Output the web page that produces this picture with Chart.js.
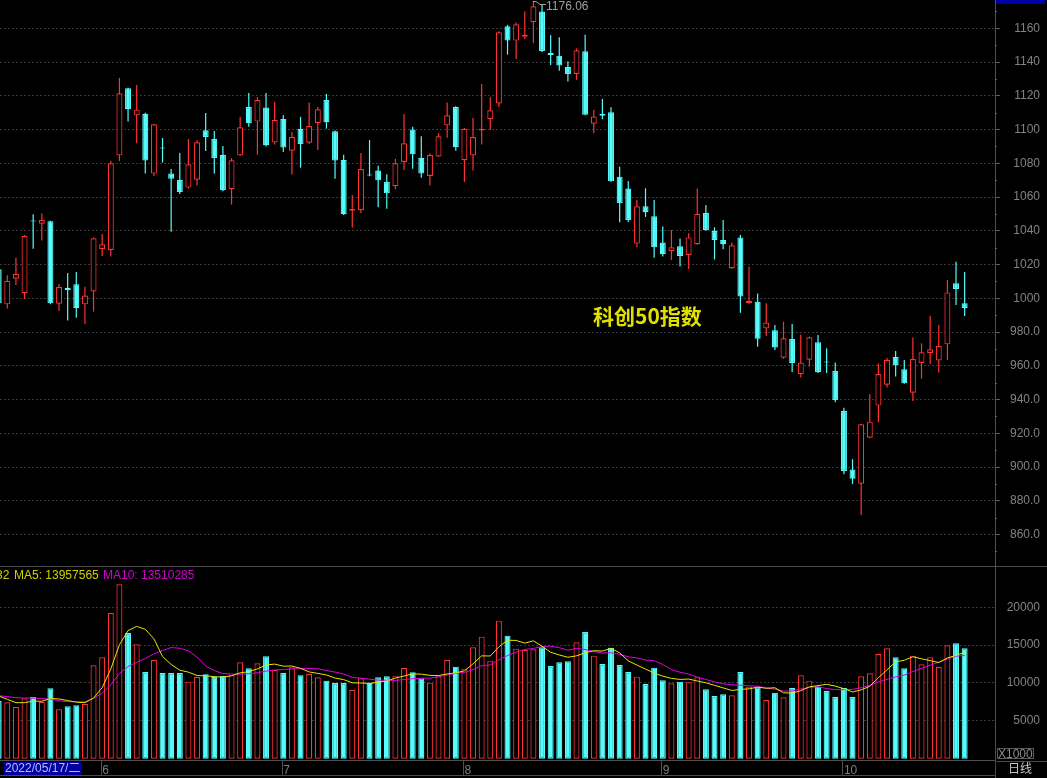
<!DOCTYPE html>
<html><head><meta charset="utf-8">
<script src="https://cdn.jsdelivr.net/npm/chart.js@4.4.0/dist/chart.umd.min.js"></script>
<style>
html,body{margin:0;padding:0;background:#000;}
body{width:1047px;height:778px;overflow:hidden;position:relative;font-family:"Liberation Sans",Arial,"Noto Sans CJK SC",sans-serif;}
canvas{position:absolute;left:0;display:block;}
#price{top:0;}
#vol{top:566px;}
.ln{position:absolute;background:#4a4a4a;}
.txt{position:absolute;white-space:nowrap;font-size:12px;line-height:12px;}
</style></head><body>
<canvas id="price" width="1047" height="566"></canvas>
<canvas id="vol" width="1047" height="212"></canvas>

<div class="ln" style="left:0;top:566px;width:1047px;height:1px;"></div>
<div class="ln" style="left:995px;top:760px;width:1px;height:18px;"></div>
<div class="ln" style="left:0;top:775px;width:995px;height:1px;"></div>
<div class="ln" style="left:995px;top:761px;width:52px;height:1px;"></div>
<div style="position:absolute;left:996px;top:0;width:49px;height:4px;background:#0000a8;"></div>

<div class="txt" id="legendVol" style="left:-4px;top:569px;color:#d0d000;">32</div>
<div class="txt" id="legendMa5" style="left:14px;top:569px;color:#d0d000;">MA5: 13957565</div>
<div class="txt" id="legendMa10" style="left:103px;top:569px;color:#d000d0;">MA10: 13510285</div>

<div class="txt" style="left:4px;top:762px;width:78px;height:13px;background:#0000a0;color:#b8b8ff;line-height:13px;padding-left:1px;box-sizing:border-box;">2022/05/17/二</div>
<div class="txt" style="left:997px;top:748px;width:37px;height:11px;border:1px solid #5a5a5a;box-sizing:border-box;color:#8a8a8a;line-height:10px;font-size:12px;">X1000</div>
<div class="txt" style="left:1008px;top:762px;color:#c4c4c4;font-family:'Noto Sans CJK SC',sans-serif;">日线</div>

<div class="txt" style="left:593px;top:305px;font-size:21px;line-height:21px;font-weight:bold;color:#e0e000;font-family:'Noto Sans CJK SC',sans-serif;">科创50指数</div>
<div class="txt" style="left:546px;top:0px;color:#a0a0a0;">1176.06</div>
<svg style="position:absolute;left:530px;top:0;" width="16" height="8"><polyline points="3,1.5 6,1.5 10,4.5 16,4.5" fill="none" stroke="#a0a0a0" stroke-width="1"/></svg>

<script>
// ---------------- data ----------------
const dates = [
 '2022-05-16','2022-05-17','2022-05-18','2022-05-19','2022-05-20','2022-05-23','2022-05-24','2022-05-25','2022-05-26','2022-05-27','2022-05-30','2022-05-31',
 '2022-06-01','2022-06-02','2022-06-06','2022-06-07','2022-06-08','2022-06-09','2022-06-10','2022-06-13','2022-06-14','2022-06-15','2022-06-16','2022-06-17','2022-06-20','2022-06-21','2022-06-22','2022-06-23','2022-06-24','2022-06-27','2022-06-28','2022-06-29','2022-06-30',
 '2022-07-01','2022-07-04','2022-07-05','2022-07-06','2022-07-07','2022-07-08','2022-07-11','2022-07-12','2022-07-13','2022-07-14','2022-07-15','2022-07-18','2022-07-19','2022-07-20','2022-07-21','2022-07-22','2022-07-25','2022-07-26','2022-07-27','2022-07-28','2022-07-29',
 '2022-08-01','2022-08-02','2022-08-03','2022-08-04','2022-08-05','2022-08-08','2022-08-09','2022-08-10','2022-08-11','2022-08-12','2022-08-15','2022-08-16','2022-08-17','2022-08-18','2022-08-19','2022-08-22','2022-08-23','2022-08-24','2022-08-25','2022-08-26','2022-08-29','2022-08-30','2022-08-31',
 '2022-09-01','2022-09-02','2022-09-05','2022-09-06','2022-09-07','2022-09-08','2022-09-09','2022-09-13','2022-09-14','2022-09-15','2022-09-16','2022-09-19','2022-09-20','2022-09-21','2022-09-22','2022-09-23','2022-09-26','2022-09-27','2022-09-28','2022-09-29','2022-09-30',
 '2022-10-10','2022-10-11','2022-10-12','2022-10-13','2022-10-14','2022-10-17','2022-10-18','2022-10-19','2022-10-20','2022-10-21','2022-10-24','2022-10-25','2022-10-26','2022-10-27','2022-10-28'
];
const open = [1017.2,996.4,1011.6,1003.0,1046.1,1044.2,1045.6,996.8,1006.3,1008.3,
 996.4,1004.0,1029.2,1028.6,1084.7,1124.4,1108.4,1109.4,1073.9,1089.4,
 1073.9,1070.1,1065.6,1070.3,1099.6,1094.4,1085.1,1064.6,1084.7,1113.4,
 1104.7,1113.0,1092.4,1106.3,1087.5,1100.5,1092.2,1103.9,1117.5,1099.0,
 1082.0,1051.9,1052.3,1073.4,1075.7,1068.9,1066.4,1080.8,1100.1,1083.2,
 1072.5,1084.0,1102.5,1113.4,1081.8,1084.7,1099.4,1106.1,1115.4,1161.2,
 1152.7,1155.0,1163.6,1169.9,1145.4,1143.8,1137.1,1132.9,1146.4,1103.5,
 1109.2,1110.2,1072.1,1065.0,1032.4,1054.5,1048.6,1033.0,1027.9,1030.8,
 1025.7,1032.0,1050.6,1039.9,1034.6,1017.8,1036.1,997.0,998.0,982.2,
 981.0,964.8,975.9,955.0,963.6,973.9,962.6,956.9,933.2,898.6,
 890.1,917.4,936.4,948.8,965.2,957.9,944.1,961.7,967.4,963.2,
 972.7,1008.9,997.0];
const high = [1018.5,1013.6,1024.1,1037.5,1049.8,1050.2,1046.0,1008.5,1015.0,1015.6,
 1006.9,1036.0,1038.1,1081.4,1130.6,1124.8,1126.4,1110.0,1103.5,1095.0,
 1076.6,1086.1,1094.4,1093.8,1109.8,1099.2,1090.3,1083.0,1107.5,1121.7,
 1119.3,1121.7,1116.5,1108.4,1098.6,1107.5,1116.1,1113.4,1121.1,1099.4,
 1085.1,1061.2,1086.1,1093.8,1078.6,1073.5,1082.6,1109.2,1101.7,1096.0,
 1085.9,1097.8,1116.0,1113.8,1101.0,1106.9,1127.0,1119.1,1158.2,1162.0,
 1163.4,1170.1,1176.06,1174.4,1155.9,1154.7,1140.4,1148.1,1156.2,1111.6,
 1118.1,1113.2,1078.0,1069.5,1058.3,1065.2,1058.3,1042.5,1040.5,1035.4,
 1038.5,1065.0,1055.3,1042.1,1046.4,1033.0,1037.5,1018.7,1002.9,997.0,
 984.2,986.1,984.8,978.6,977.2,978.3,970.4,962.0,935.2,904.6,
 925.6,943.1,961.4,964.8,968.8,963.4,976.7,973.3,989.7,984.2,
 1010.8,1021.7,1015.6];
const low = [995.0,993.9,1007.9,999.6,1029.4,1034.2,996.5,992.5,986.8,988.5,
 984.8,992.1,1025.1,1024.7,1081.4,1104.7,1091.9,1073.9,1072.5,1080.4,
 1039.5,1061.8,1065.0,1066.8,1087.3,1073.9,1063.5,1055.5,1084.3,1101.7,
 1085.1,1089.9,1091.1,1086.7,1073.3,1077.4,1091.5,1087.9,1100.5,1070.9,
 1049.4,1041.9,1050.4,1072.3,1053.9,1053.1,1064.6,1076.0,1076.8,1071.5,
 1066.8,1083.8,1095.2,1087.5,1068.9,1075.7,1091.1,1099.8,1113.4,1144.4,
 1141.8,1153.7,1151.3,1146.0,1138.3,1134.9,1128.4,1129.4,1108.4,1097.8,
 1106.1,1069.0,1045.0,1045.2,1030.2,1048.2,1024.1,1024.7,1022.7,1018.8,
 1017.3,1031.8,1040.0,1023.0,1029.0,1017.4,991.5,996.8,971.3,977.7,
 969.4,964.2,956.3,953.0,959.5,955.7,955.7,938.4,895.7,890.0,
 871.6,917.0,926.5,947.2,953.6,949.4,939.1,952.4,961.0,955.9,
 963.4,996.0,989.5];
const close = [997.0,1010.3,1014.4,1036.9,1045.5,1046.4,997.0,1006.7,1004.9,994.1,
 1001.6,1035.6,1032.0,1080.0,1121.5,1112.0,1111.8,1081.6,1103.1,1088.8,
 1070.9,1063.0,1079.4,1092.4,1095.6,1083.2,1064.0,1081.8,1101.3,1103.7,
 1117.5,1090.7,1105.7,1089.3,1095.6,1091.5,1102.1,1112.0,1104.3,1081.6,
 1049.8,1052.9,1076.6,1072.8,1069.9,1062.2,1080.0,1091.9,1085.3,1073.9,
 1084.9,1096.0,1108.4,1089.5,1100.5,1095.6,1100.5,1111.4,1157.6,1152.7,
 1162.4,1156.2,1173.0,1146.6,1144.2,1137.9,1132.9,1147.0,1108.8,1107.7,
 1108.2,1069.3,1056.5,1046.4,1054.5,1051.0,1030.2,1026.1,1030.2,1025.1,
 1036.1,1050.0,1040.5,1034.6,1032.0,1031.4,1001.0,998.4,976.1,985.6,
 970.9,976.3,961.7,961.9,976.9,956.3,962.0,939.7,897.7,893.1,
 925.3,926.9,955.1,963.4,960.5,949.6,964.0,968.0,969.8,971.7,
 1003.5,1005.5,994.3];
// volume, in thousands (axis shows X1000)
const volume = [7621,7444,6828,7973,8149,7532,9294,6519,6916,7048,
 7224,12334,13391,19250,23038,16607,15109,11453,13039,11321,
 11321,11321,10176,10792,11145,10792,10924,11101,12731,11938,
 12599,13523,11717,11321,12070,11013,11189,10748,10308,9999,
 9999,9074,10616,10043,10748,10880,10968,11982,11409,10616,
 10043,10880,13039,12158,11894,14713,16122,12951,18237,16254,
 14537,14361,14449,14713,12246,12731,12863,15373,16739,13612,
 12510,14669,12378,11453,10836,9867,12026,10352,9955,10176,
 10087,10748,9162,8281,8502,8370,11453,9515,9427,7753,
 8722,8105,9339,11013,10308,9515,8942,8149,9339,8149,
 10880,11277,13832,14581,13391,11938,13612,12466,13391,12114,
 14977,15241,14581];
// sessions before 2022-05-16 (off-screen, estimated from the MA lines), only used to start the averages
const prevVolume = [8764,8148,8413,8149,8369,9646,9033,7973,7134];
const maPeriods = [5, 10];
const priceTicks = [860,880,900,920,940,960,980,1000,1020,1040,1060,1080,1100,1120,1140,1160];
const priceMinorTicks = [850,870,890,910,930,950,970,990,1010,1030,1050,1070,1090,1110,1130,1150,1170];
const volTicks = [5000,10000,15000,20000];

// ---------------- derived ----------------
const RED = '#ff3232', CYAN = '#54fcfc';
const up = open.map((o, i) => close[i] >= o);
const idx = dates.map((d, i) => i);
const monthStarts = [], monthLabels = [];
dates.forEach((d, i) => {
  if (i > 0 && d.slice(5, 7) !== dates[i - 1].slice(5, 7)) {
    monthStarts.push(i); monthLabels.push(String(parseInt(d.slice(5, 7), 10)));
  }
});
const allVol = prevVolume.concat(volume);
function movingAvg(n) {
  return volume.map((_, i) => {
    const j = i + prevVolume.length;
    let s = 0;
    for (let k = j - n + 1; k <= j; k++) s += allVol[k];
    return {x: i, y: s / n};
  });
}

const X_MIN = 0.1536, X_MAX = 115.52;
Chart.defaults.font.family = '"Liberation Sans", Arial, sans-serif';
Chart.defaults.font.size = 12;

function fixAxisY(s) { s.width = 45; s.paddingTop = 0; s.paddingBottom = 0; }

// ---------------- price chart ----------------
const priceMinor = {
  id: 'priceMinor',
  afterDraw(chart) {
    const {ctx, chartArea} = chart; const y = chart.scales.y;
    ctx.save(); ctx.strokeStyle = '#606060'; ctx.lineWidth = 1;
    priceMinorTicks.forEach(v => {
      if (v < y.min || v > y.max) return;
      const py = Math.round(y.getPixelForValue(v)) + 0.5;
      ctx.beginPath(); ctx.moveTo(chartArea.right, py); ctx.lineTo(chartArea.right + 2, py); ctx.stroke();
    });
    ctx.restore();
  }
};

new Chart(document.getElementById('price'), {
  type: 'bar',
  data: {
    datasets: [
      {
        label: 'body',
        data: idx.map(i => ({x: i, y: [open[i], close[i]]})),
        backgroundColor: up.map(u => u ? '#000000' : CYAN),
        borderColor: up.map(u => u ? RED : CYAN),
        borderWidth: 1.2, borderSkipped: false, inflateAmount: 0,
        barPercentage: 1, categoryPercentage: 1, maxBarThickness: 6, barThickness: 6,
        minBarLength: 1, grouped: false, order: 0
      },
      {
        label: 'wick',
        data: idx.map(i => ({x: i, y: [low[i], high[i]]})),
        backgroundColor: up.map(u => u ? RED : CYAN),
        borderWidth: 0, inflateAmount: 0,
        barPercentage: 1, categoryPercentage: 1, maxBarThickness: 1.2, barThickness: 1.2,
        grouped: false, order: 1
      }
    ]
  },
  options: {
    animation: false, responsive: false,
    layout: {padding: {left: 0, right: 7, top: 0, bottom: 0}},
    plugins: {legend: {display: false}, tooltip: {enabled: false}},
    scales: {
      x: {type: 'linear', min: X_MIN, max: X_MAX, offset: false, display: false, grid: {offset: false}},
      y: {
        type: 'linear', position: 'right', min: 841.36, max: 1176.77,
        afterBuildTicks: s => { s.ticks = priceTicks.map(v => ({value: v})); },
        afterFit: fixAxisY,
        ticks: {autoSkip: false, color: '#828282', crossAlign: 'far', padding: 0,
          callback: v => v >= 1000 ? String(v) : v.toFixed(1)},
        grid: {color: '#3a3a3a', tickColor: '#606060', lineWidth: 1, tickLength: 5},
        border: {display: true, color: '#505050', width: 1, dash: [2, 2]}
      }
    }
  },
  plugins: [priceMinor]
});

// ---------------- volume chart ----------------
const volExtras = {
  id: 'volExtras',
  afterDraw(chart) {
    const {ctx, chartArea} = chart; const x = chart.scales.x;
    ctx.save(); ctx.strokeStyle = '#505050'; ctx.lineWidth = 1;
    monthStarts.forEach(i => {
      const px = Math.round(x.getPixelForValue(i) - 1.6) + 0.5;
      ctx.beginPath(); ctx.moveTo(px, chartArea.bottom); ctx.lineTo(px, chartArea.bottom + 15); ctx.stroke();
    });
    ctx.restore();
  }
};

new Chart(document.getElementById('vol'), {
  type: 'bar',
  data: {
    datasets: [
      {
        type: 'line', label: 'MA5', data: movingAvg(maPeriods[0]),
        borderColor: '#e6e600', borderWidth: 1, pointRadius: 0, tension: 0, order: -2
      },
      {
        type: 'line', label: 'MA10', data: movingAvg(maPeriods[1]),
        borderColor: '#e000e0', borderWidth: 1, pointRadius: 0, tension: 0, order: -1
      },
      {
        label: 'VOLUME',
        data: idx.map(i => ({x: i, y: volume[i]})),
        backgroundColor: up.map(u => u ? '#000000' : CYAN),
        borderColor: up.map(u => u ? RED : CYAN),
        borderWidth: 1.2, borderSkipped: false, inflateAmount: 0,
        barPercentage: 1, categoryPercentage: 1, maxBarThickness: 6, barThickness: 6,
        grouped: false, order: 0
      }
    ]
  },
  options: {
    animation: false, responsive: false,
    layout: {padding: {left: 0, right: 7, top: 0, bottom: 0}},
    plugins: {legend: {display: false}, tooltip: {enabled: false}},
    scales: {
      x: {
        type: 'linear', min: X_MIN, max: X_MAX, offset: false, position: 'bottom',
        afterBuildTicks: s => { s.ticks = monthStarts.map(v => ({value: v})); },
        afterFit: s => { s.height = 18; s.paddingLeft = 0; s.paddingRight = 0; },
        ticks: {autoSkip: false, maxRotation: 0, align: 'start', color: '#7c7c7c', padding: 3,
          callback: (v, i) => monthLabels[i]},
        grid: {display: false, drawTicks: false, offset: false},
        border: {display: true, color: '#505050'}
      },
      y: {
        type: 'linear', position: 'right', min: -172, max: 25456,
        afterBuildTicks: s => { s.ticks = volTicks.map(v => ({value: v})); },
        afterFit: fixAxisY,
        ticks: {autoSkip: false, color: '#828282', crossAlign: 'far', padding: 0,
          callback: v => String(v)},
        grid: {color: '#3a3a3a', drawTicks: false},
        border: {display: true, color: '#505050', width: 1, dash: [2, 2]}
      }
    }
  },
  plugins: [volExtras]
});
</script>
</body></html>
